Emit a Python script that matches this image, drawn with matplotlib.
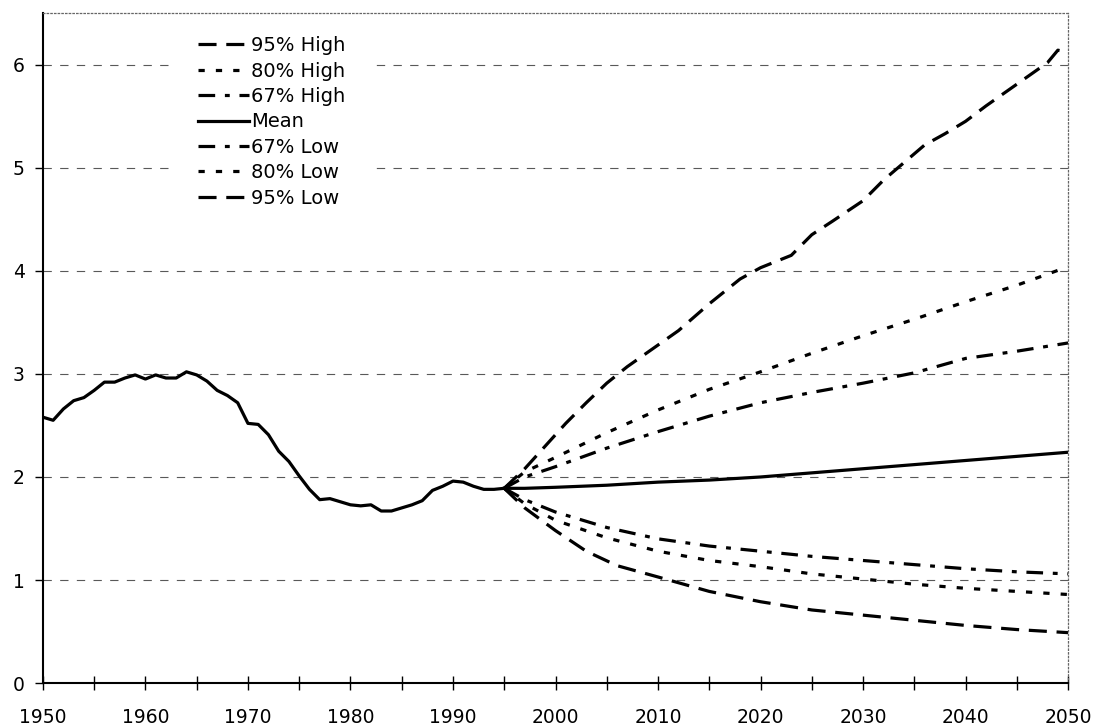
import numpy as np
import matplotlib
matplotlib.use('Agg')
import matplotlib.pyplot as plt
from matplotlib.ticker import MultipleLocator

plt.rcParams['font.family'] = ['DejaVu Sans']
plt.rcParams['lines.scale_dashes'] = False

# observed values, 1950-1995
hist_years = np.arange(1950, 1996)
hist_vals = [2.58, 2.55, 2.66, 2.74, 2.77, 2.84, 2.92, 2.92, 2.96, 2.99,
             2.95, 2.99, 2.96, 2.96, 3.02, 2.99, 2.93, 2.84, 2.79, 2.72,
             2.52, 2.51, 2.41, 2.25, 2.15, 2.01, 1.88, 1.78, 1.79, 1.76,
             1.73, 1.72, 1.73, 1.67, 1.67, 1.70, 1.73, 1.77, 1.87, 1.91,
             1.96, 1.95, 1.91, 1.88, 1.88, 1.89]

# projections 1995-2050
proj_years = [1995, 1997, 2000, 2005, 2010, 2015, 2020, 2025, 2030, 2035, 2040, 2045, 2050]
mean_vals = [1.89, 1.89, 1.90, 1.92, 1.95, 1.97, 2.00, 2.04, 2.08, 2.12, 2.16, 2.20, 2.24]
high67 = [1.89, 2.00, 2.10, 2.28, 2.44, 2.59, 2.72, 2.82, 2.91, 3.01, 3.15, 3.22, 3.30]
high80 = [1.89, 2.05, 2.19, 2.43, 2.65, 2.85, 3.02, 3.20, 3.37, 3.53, 3.70, 3.86, 4.04]
low67 = [1.89, 1.78, 1.66, 1.51, 1.40, 1.33, 1.28, 1.23, 1.19, 1.15, 1.11, 1.08, 1.06]
low80 = [1.89, 1.74, 1.58, 1.41, 1.28, 1.19, 1.13, 1.06, 1.01, 0.96, 0.92, 0.89, 0.86]

high95_years = [1995, 1997, 1999, 2001, 2003, 2005, 2007, 2010, 2012, 2015, 2018, 2020,
                2023, 2025, 2027, 2030, 2032, 2034, 2036, 2038, 2040, 2042, 2044, 2046,
                2048, 2049, 2050]
high95 = [1.89, 2.08, 2.30, 2.52, 2.72, 2.91, 3.07, 3.28, 3.42, 3.68, 3.92, 4.03,
          4.15, 4.35, 4.48, 4.68, 4.88, 5.05, 5.22, 5.33, 5.45, 5.60, 5.74, 5.88,
          6.02, 6.14, 6.12]
low95_years = [1995, 1997, 2000, 2003, 2006, 2010, 2015, 2020, 2025, 2030, 2035, 2040, 2045, 2050]
low95 = [1.89, 1.70, 1.48, 1.28, 1.14, 1.03, 0.89, 0.79, 0.71, 0.66, 0.61, 0.56, 0.52, 0.49]

dash95 = (0, (13, 7))
dot80 = (0, (4.5, 8))
dd67 = (0, (12, 7, 3.5, 7))
lw = 2.3

fig = plt.figure(figsize=(11, 7.26), dpi=100)
ax = fig.add_axes([0.039, 0.059, 0.932, 0.923])

ax.plot(hist_years, hist_vals, color='black', lw=lw, solid_joinstyle='round')
ax.plot(high95_years, high95, color='black', lw=lw, ls=dash95, label='95% High')
ax.plot(proj_years, high80, color='black', lw=lw, ls=dot80, label='80% High')
ax.plot(proj_years, high67, color='black', lw=lw, ls=dd67, label='67% High')
ax.plot(proj_years, mean_vals, color='black', lw=lw, label='Mean')
ax.plot(proj_years, low67, color='black', lw=lw, ls=dd67, label='67% Low')
ax.plot(proj_years, low80, color='black', lw=lw, ls=dot80, label='80% Low')
ax.plot(low95_years, low95, color='black', lw=lw, ls=dash95, label='95% Low')

ax.set_xlim(1950, 2050)
ax.set_ylim(0, 6.5)
ax.xaxis.set_major_locator(MultipleLocator(10))
ax.xaxis.set_minor_locator(MultipleLocator(5))
ax.set_yticks(range(0, 7))
ax.tick_params(axis='x', which='both', direction='inout', length=10, width=1, pad=13, labelsize=13.5)
ax.tick_params(axis='y', direction='out', length=6, width=1, pad=7, labelsize=13.5)

# dashed gridlines
ax.set_axisbelow(True)
ax.grid(axis='y', color='0.35', lw=0.8, ls=(0, (6, 6)))

for s in ['left', 'bottom']:
    ax.spines[s].set_linewidth(1.5)
for s in ['top', 'right']:
    ax.spines[s].set_linestyle(':')
    ax.spines[s].set_color('0.4')
    ax.spines[s].set_linewidth(0.9)

leg = ax.legend(loc='upper left', bbox_to_anchor=(0.157, 0.985),
                bbox_transform=fig.transFigure, frameon=True, fontsize=14,
                handlelength=2.6, handletextpad=0.15, labelspacing=0.33,
                borderpad=1.3, borderaxespad=0)
leg.get_frame().set_edgecolor('none')
leg.get_frame().set_facecolor('white')
leg.get_frame().set_alpha(1)
leg.get_frame().set_boxstyle('square', pad=0)
# keep the top border visible over the legend box
leg.set_zorder(2.2)

fig.savefig('out.png', dpi=100)
